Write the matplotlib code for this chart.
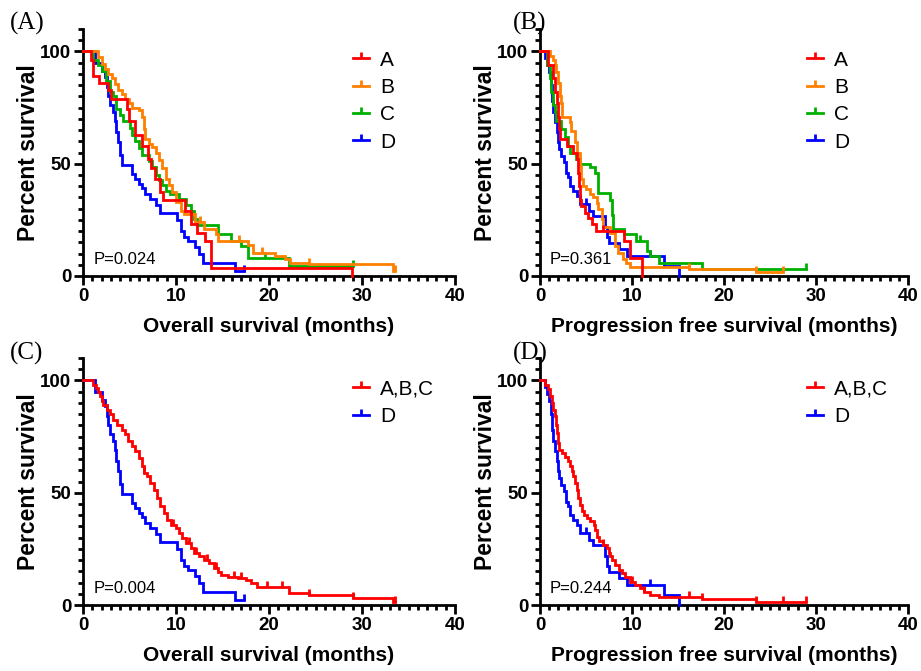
import numpy as np
import matplotlib
matplotlib.use("Agg")
import matplotlib.pyplot as plt
from matplotlib.path import Path
from matplotlib.lines import Line2D
from matplotlib.ticker import MultipleLocator, FixedLocator

plt.rcParams['font.family'] = ['Liberation Sans', 'DejaVu Sans']

RED = "#FF0000"
ORANGE = "#FF8000"
GREEN = "#00B000"
BLUE = "#0000FF"

# ---- Overall survival (months / percent survival after each step) ----
os_a_t = [0, 0.9, 1.1, 1.7, 2.7, 3.0, 4.7, 4.95, 5.55, 6.3, 7.0, 7.35, 7.7, 8.25, 8.6, 11.0, 11.6, 12.3, 13.1, 13.8, 28.9]
os_a_s = [100, 96, 89, 86, 83, 79, 74.5, 69, 63, 58, 52, 48, 43, 37.5, 34, 29, 23, 19, 15.5, 3.7, 0]
os_a_cens = []

os_b_t = [0, 1.63, 2.0, 2.35, 2.7, 3.1, 3.45, 3.8, 4.15, 4.5, 4.9, 5.25, 5.98, 6.34, 6.52, 6.7, 7.07, 7.43, 7.8, 8.15,
          8.5, 8.9, 9.24, 9.6, 10.0, 10.5, 10.9, 12.0, 13.0, 14.3, 14.5, 17.75, 18.3, 20.65, 21.7, 22.3, 24.3, 33.3, 33.5]
os_b_s = [100, 97.5, 94.5, 92, 90, 88, 85.6, 83, 81, 79, 77, 75, 74, 71, 65.6, 61, 59, 57.5, 55, 51.5,
          48, 43, 40.4, 37.5, 33, 29, 27.5, 24, 21, 18.6, 15.6, 14, 10.4, 9, 7.4, 6, 5.2, 2.2, 2.2]
os_b_cens = [12.6, 16.8, 19.2, 24.3, 33.5]

os_c_t = [0, 1.1, 1.6, 2.0, 2.5, 2.9, 3.26, 3.6, 4.0, 4.35, 5.07, 5.25, 5.6, 5.98, 6.34, 7.07, 7.43, 7.8, 8.15, 8.5,
          8.9, 9.4, 10.3, 11.05, 11.6, 11.95, 12.3, 14.5, 15.95, 17.0, 17.75, 22.1, 29.0]
os_c_s = [100, 96, 94, 91.5, 87, 82, 80, 74.5, 71.5, 69, 66, 63, 60, 57, 54, 51, 48.6, 45, 42.7, 40.4,
          38, 36.7, 34.5, 31.5, 29, 25.6, 22.5, 18.6, 15.6, 13.4, 8.2, 4.5, 4.5]
os_c_cens = [19.6, 29.0]

os_d_t = [0, 1.3, 2.0, 2.35, 2.55, 2.7, 2.9, 3.2, 3.45, 3.6, 3.8, 4.0, 4.15, 5.25, 5.6, 6.0, 6.35, 6.7, 7.25, 7.8,
          8.3, 10.1, 10.5, 10.85, 11.3, 12.0, 12.5, 12.9, 16.3, 17.3]
os_d_s = [100, 95, 91.5, 88.6, 84, 80, 76, 73, 69, 64, 59.7, 53.8, 49.5, 45.6, 43.4, 41, 39, 36.7, 34.5, 31.5,
          28, 25, 20, 17.5, 15.6, 13, 9.7, 6, 2.2, 2.2]
os_d_cens = [17.3]

os_abc_t = [0, 1.09, 1.45, 1.63, 1.81, 2.0, 2.17, 2.54, 2.9, 3.26, 3.62, 4.17, 4.53, 4.89, 5.25, 5.62, 5.98, 6.34,
            6.52, 6.88, 7.25, 7.6, 7.97, 8.33, 8.7, 9.06, 9.42, 9.96, 10.33, 10.69, 11.05, 11.6, 11.96, 12.5, 13.04,
            13.6, 14.13, 14.5, 14.86, 15.58, 16.67, 17.57, 18.1, 18.66, 22.1, 24.3, 29.0, 33.3, 33.5]
os_abc_s = [100, 98, 96.7, 95, 93, 91, 89, 87, 85, 82.6, 80, 78, 76, 73, 70.7, 68.5, 65.5, 61.8,
            58.8, 57.3, 54.3, 51.3, 47.6, 43.9, 41, 38, 35.7, 34.2, 32, 29.8, 27.5, 25.3, 23, 21.6, 20,
            18.6, 16.4, 14.9, 13.4, 12.6, 11.9, 11.2, 9.7, 8.2, 5.2, 4.5, 3.0, 1.5, 1.5]
os_abc_cens = [6.6, 9.7, 11.4, 12.2, 13.3, 14.3, 16.2, 17.0, 19.8, 21.4, 24.3, 29.0, 33.5]

# ---- Progression free survival ----
pfs_a_t = [0, 0.85, 1.4, 1.6, 1.8, 2.0, 2.05, 2.15, 2.9, 3.6, 4.0, 4.15, 4.25, 4.35, 4.5, 4.9, 5.2, 5.6, 6.1, 9.1, 9.8, 11.1]
pfs_a_s = [100, 94, 88, 82, 77, 71, 65.5, 61, 58, 55, 52, 46, 40, 34, 31, 28, 26, 23, 20, 15.6, 8.2, 0]
pfs_a_cens = [6.9]

pfs_b_t = [0, 1.05, 1.42, 1.6, 1.78, 1.96, 2.15, 2.33, 2.4, 3.24, 3.42, 3.78, 4.07, 4.33, 4.5, 4.7,
           5.05, 5.42, 5.78, 6.15, 6.33, 6.7, 6.87, 7.6, 8.15, 8.5, 9.05, 9.4, 9.8, 16.2, 23.5, 26.4]
pfs_b_s = [100, 98, 96, 94, 91, 86, 80, 77, 71, 68.5, 64.7, 59.5, 55, 49, 43, 40,
           38.7, 36.5, 35, 32.7, 29.8, 25.3, 21.6, 19.3, 13.4, 10.4, 7.4, 6, 4.0, 3.0, 1.8, 1.8]
pfs_b_cens = [16.2, 23.5, 26.4]

pfs_c_t = [0, 0.8, 1.05, 1.24, 1.42, 1.6, 1.78, 2.33, 2.7, 3.05, 3.24, 3.96, 4.33, 5.42, 5.96, 6.25, 7.6, 7.78, 7.96,
           9.1, 10.4, 11.6, 12.0, 12.9, 17.6, 28.9]
pfs_c_s = [100, 94, 88, 82, 76, 73, 69, 65.5, 62, 58, 55, 52, 50, 48.4, 46, 37, 34, 27, 21,
           18.6, 15.6, 11.2, 9, 6, 3, 3]
pfs_c_cens = [10.9, 28.9]

pfs_d_t = [0, 0.5, 0.8, 1.0, 1.2, 1.35, 1.45, 1.6, 1.8, 1.95, 2.1, 2.3, 2.6, 2.8, 3.0, 3.3, 3.6, 4.0, 4.3, 5.3,
           5.8, 7.1, 7.3, 7.45, 8.6, 9.5, 13.45, 15.1]
pfs_d_s = [100, 97, 94, 91, 85, 78, 73, 68.5, 64, 59.5, 56.5, 53.6, 50.6, 46, 44, 40, 38, 35.7, 32, 29,
           26.8, 21.6, 17.5, 14.9, 11.9, 8.9, 4.5, 0]
pfs_d_cens = [5.0, 12.0]

pfs_abc_t = [0, 0.55, 0.91, 1.09, 1.27, 1.45, 1.64, 1.71, 1.82, 2.0, 2.07, 2.36, 2.73, 3.09, 3.27, 3.45, 3.64, 3.82,
             4.0, 4.18, 4.36, 4.55, 4.73, 5.09, 5.45, 5.82, 6.0, 6.18, 6.36, 6.9, 7.27, 7.45, 7.64, 7.82, 8.18, 8.55,
             8.9, 9.27, 9.8, 10.36, 10.9, 11.27, 12.0, 12.9, 17.6, 23.5, 28.9]
pfs_abc_s = [100, 98, 96, 93, 90, 87, 84, 80, 76.6, 72, 69, 67.7, 66, 64, 61.8, 59.5, 57.3, 54.3,
             51.3, 47.6, 44.6, 41.7, 40, 38.7, 37.2, 35.7, 33.5, 30.5, 28.3, 26.8, 25.3, 23, 21.6, 20, 17.9, 15.6,
             14.1, 12.6, 10.4, 8.9, 7.4, 6, 4.5, 3.4, 2.5, 1.5, 1.5]
pfs_abc_cens = [6.9, 10.0, 11.3, 16.2, 17.6, 23.5, 26.4, 28.9]

p_values = ["P=0.024", "P=0.361", "P=0.004", "P=0.244"]
panel_tags = ["(A)", "(B)", "(C)", "(D)"]
x_titles = ["Overall survival (months)", "Progression free survival (months)"]

LW = 2.0

# censor tick: short vertical stroke going up from the curve
tick_up = Path([(0, 0), (0, 1)], [Path.MOVETO, Path.LINETO])


def km(ax, t, s, cens, color, label, z):
    ax.step(t, s, where="post", color=color, lw=LW, zorder=z, clip_on=False, solid_joinstyle="miter")
    if cens:
        idx = np.searchsorted(t, cens, side="right") - 1
        ys = np.array(s)[idx]
        ax.plot(cens, ys, ls="none", marker=tick_up, ms=8, mew=LW, color=color, zorder=z, clip_on=False)
    return Line2D([], [], color=color, lw=LW, marker=tick_up, ms=8, mew=LW, label=label)


def style(ax, xtitle):
    ax.set_xlim(0, 40)
    ax.set_ylim(0, 110)
    for sp in ["top", "right"]:
        ax.spines[sp].set_visible(False)
    for sp in ["left", "bottom"]:
        ax.spines[sp].set_linewidth(2.0)
    ax.xaxis.set_major_locator(MultipleLocator(10))
    ax.xaxis.set_minor_locator(MultipleLocator(1))
    ax.yaxis.set_major_locator(FixedLocator([0, 50, 100]))
    ax.yaxis.set_minor_locator(MultipleLocator(5))
    ax.tick_params(which="major", direction="out", length=6.5, width=2.0, labelsize=13.5, pad=2)
    ax.tick_params(which="minor", direction="out", length=3.5, width=2.0)
    for lb in ax.get_xticklabels() + ax.get_yticklabels():
        lb.set_fontweight("bold")
    ax.set_xlabel(xtitle, fontsize=15, fontweight="bold", labelpad=9)
    ax.set_ylabel("Percent survival", fontsize=16.5, fontweight="bold", labelpad=0)


fig = plt.figure(figsize=(9.21, 6.71), dpi=100)
W, H = 921.0, 671.0
boxes = [(83, 276, 372), (540, 276, 368), (83, 605, 372), (540, 605, 368)]
axes = []
for (x0, y0, w) in boxes:
    h = 247.0
    axes.append(fig.add_axes([x0 / W, 1 - y0 / H, w / W, h / H]))

# (A) OS by group
ax = axes[0]
hd = km(ax, os_d_t, os_d_s, os_d_cens, BLUE, "D", 3)
hc = km(ax, os_c_t, os_c_s, os_c_cens, GREEN, "C", 4)
hb = km(ax, os_b_t, os_b_s, os_b_cens, ORANGE, "B", 5)
ha = km(ax, os_a_t, os_a_s, os_a_cens, RED, "A", 6)
groups_a = [ha, hb, hc, hd]

# (B) PFS by group
ax = axes[1]
hd = km(ax, pfs_d_t, pfs_d_s, pfs_d_cens, BLUE, "D", 3)
hc = km(ax, pfs_c_t, pfs_c_s, pfs_c_cens, GREEN, "C", 4)
hb = km(ax, pfs_b_t, pfs_b_s, pfs_b_cens, ORANGE, "B", 5)
ha = km(ax, pfs_a_t, pfs_a_s, pfs_a_cens, RED, "A", 6)
groups_b = [ha, hb, hc, hd]

# (C) OS A,B,C vs D
ax = axes[2]
h2 = km(ax, os_d_t, os_d_s, os_d_cens, BLUE, "D", 3)
h1 = km(ax, os_abc_t, os_abc_s, os_abc_cens, RED, "A,B,C", 4)
groups_c = [h1, h2]

# (D) PFS A,B,C vs D
ax = axes[3]
h2 = km(ax, pfs_d_t, pfs_d_s, pfs_d_cens, BLUE, "D", 3)
h1 = km(ax, pfs_abc_t, pfs_abc_s, pfs_abc_cens, RED, "A,B,C", 4)
groups_d = [h1, h2]

for i, (ax, hs) in enumerate(zip(axes, [groups_a, groups_b, groups_c, groups_d])):
    style(ax, x_titles[i % 2])
    ax.legend(handles=hs, loc="upper left", bbox_to_anchor=(0.725, 0.912), frameon=False,
              fontsize=15, handlelength=0.8, handletextpad=0.5, labelspacing=0.4,
              borderpad=0, borderaxespad=0)
    ax.text(1.1, 5.5, p_values[i], fontsize=12, va="baseline", ha="left")

fig.text(10 / W, 1 - 30 / H, panel_tags[0], family=["Liberation Serif"], fontsize=18)
fig.text(513 / W, 1 - 30 / H, panel_tags[1], family=["Liberation Serif"], fontsize=18)
fig.text(10 / W, 1 - 360 / H, panel_tags[2], family=["Liberation Serif"], fontsize=18)
fig.text(513 / W, 1 - 360 / H, panel_tags[3], family=["Liberation Serif"], fontsize=18)

fig.savefig("out.png", dpi=100)
